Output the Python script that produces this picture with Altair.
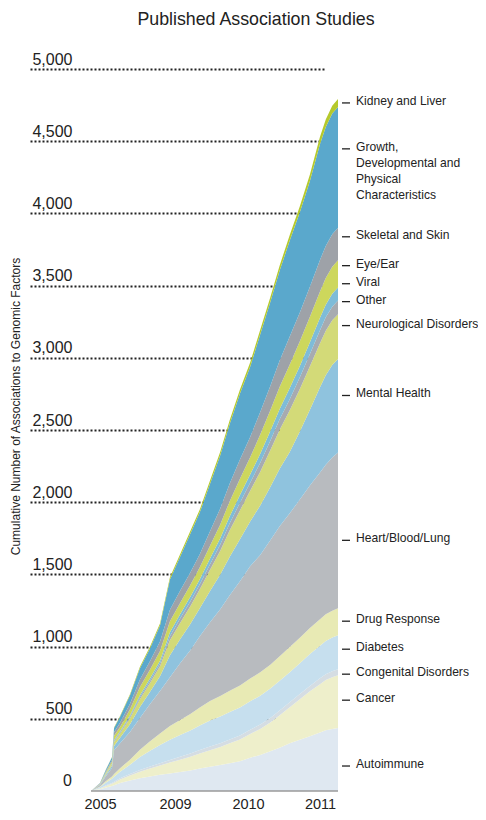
import altair as alt
import pandas as pd

F = "Liberation Sans, Arial, Helvetica, sans-serif"

# time points (fractional years)
years = [2004.85, 2005.0, 2005.32, 2005.64, 2005.75, 2006.07, 2006.6, 2007.13, 2007.67, 2008.2,
         2008.73, 2009.07, 2009.21, 2009.34, 2009.48, 2009.62, 2009.75, 2009.89, 2010.03, 2010.17,
         2010.31, 2010.44, 2010.58, 2010.72, 2010.86, 2011.0, 2011.08, 2011.17, 2011.25]

categories = ["Autoimmune", "Cancer", "Congenital Disorders", "Diabetes", "Drug Response",
              "Heart/Blood/Lung", "Mental Health", "Neurological Disorders", "Other", "Viral",
              "Eye/Ear", "Skeletal and Skin", "Growth, Developmental and Physical Characteristics",
              "Kidney and Liver"]

label_text = ["Autoimmune", "Cancer", "Congenital Disorders", "Diabetes", "Drug Response",
              "Heart/Blood/Lung", "Mental Health", "Neurological Disorders", "Other", "Viral",
              "Eye/Ear", "Skeletal and Skin", "Growth,\nDevelopmental and\nPhysical\nCharacteristics",
              "Kidney and Liver"]

colors = ["#dfe8f1", "#eeefcb", "#d5dde3", "#c6dfee", "#e8eab4", "#b8bbbf", "#8fc3de",
          "#d3da78", "#a7abb0", "#7ebcd8", "#cdd75c", "#9ea2a8", "#5aa8cc", "#b5c92c"]

autoimmune = [0, 12, 25, 35, 40, 55, 72, 88, 100, 112, 122, 132, 142, 155, 168, 180, 192, 206, 230, 250,
              275, 300, 330, 355, 380, 405, 420, 430, 436]
cancer = [0, 5, 10, 15, 18, 25, 35, 45, 55, 65, 75, 85, 95, 105, 115, 125, 138, 150, 165, 180,
          200, 225, 250, 280, 310, 335, 348, 358, 366]
congenital = [0, 2, 4, 5, 6, 8, 10, 12, 14, 16, 18, 20, 22, 24, 25, 26, 27, 28, 29, 30,
              31, 33, 35, 37, 38, 40, 41, 42, 42]
diabetes = [0, 8, 20, 30, 35, 45, 65, 90, 110, 125, 140, 150, 160, 170, 180, 185, 190, 194, 197, 200,
            203, 205, 208, 213, 220, 226, 230, 233, 235]
drug = [0, 5, 10, 15, 18, 25, 35, 50, 65, 80, 95, 105, 115, 125, 135, 142, 148, 153, 158, 162,
        166, 170, 174, 177, 180, 183, 185, 186, 187]
heart = [0, 10, 35, 60, 165, 172, 191, 220, 258, 294, 338, 393, 441, 493, 546, 601, 661, 721, 778, 812,
         861, 900, 926, 957, 988, 1017, 1036, 1061, 1079]
mental = [0, 3, 9, 15, 30, 38, 55, 76, 86, 102, 152, 166, 181, 193, 216, 240, 267, 292, 310, 343,
          370, 398, 424, 470, 525, 590, 620, 640, 646]
neuro = [0, 2, 7, 12, 28, 30, 41, 54, 60, 70, 104, 113, 124, 132, 147, 164, 182, 199, 212, 234,
         253, 271, 289, 295, 300, 305, 308, 310, 311]
other = [0, 1, 2, 3, 7, 8, 10, 14, 16, 19, 28, 30, 33, 35, 39, 44, 49, 53, 56, 62,
         67, 72, 77, 81, 85, 90, 92, 94, 95]
viral = [0, 1, 2, 3, 7, 8, 10, 14, 16, 19, 28, 30, 33, 35, 39, 44, 49, 53, 56, 62,
         67, 72, 77, 79, 82, 86, 88, 89, 90]
eye_ear = [0, 2, 8, 12, 28, 30, 42, 57, 62, 68, 76, 78, 80, 82, 88, 95, 104, 113, 120, 133,
           143, 154, 164, 170, 176, 183, 185, 187, 188]
skeletal = [0, 2, 7, 11, 25, 29, 39, 53, 58, 65, 80, 84, 88, 90, 100, 110, 122, 133, 141, 156,
            168, 181, 193, 200, 208, 218, 222, 225, 226]
growth = [0, 2, 10, 17, 30, 42, 58, 77, 88, 111, 208, 237, 268, 291, 330, 370, 415, 457, 486, 539,
          582, 623, 665, 694, 732, 802, 823, 836, 836]
kidney = [0, 0, 1, 2, 3, 5, 7, 10, 12, 14, 16, 17, 18, 20, 22, 24, 26, 28, 30, 32,
          34, 36, 38, 42, 46, 50, 52, 54, 55]

series = [autoimmune, cancer, congenital, diabetes, drug, heart, mental, neuro, other, viral,
          eye_ear, skeletal, growth, kidney]

# where each right-hand label points (in association counts)
label_values = [173, 629, 809, 982, 1176, 1736, 2739, 3223, 3389, 3513, 3638, 3838, 4447, 4765]

grid_ticks = [500, 1000, 1500, 2000, 2500, 3000, 3500, 4000, 4500, 5000]
zero_tick = [0]
x_ticks = [2005, 2009, 2010, 2011]

rows = []
for k, (cat, vals) in enumerate(zip(categories, series)):
    for t, v in zip(years, vals):
        rows.append({"year": t, "category": cat, "count": v, "order": k})
df = pd.DataFrame(rows)

labels_df = pd.DataFrame({"label": label_text, "label_value": label_values})
base_df = pd.DataFrame({"x0": [years[0]], "x1": [years[-1]], "y": zero_tick})
zero_df = pd.DataFrame({"v": zero_tick, "txt": ["0"]})

# piecewise time axis as in the original (2005-2009 compressed)
x_scale = alt.Scale(domain=[2004.0, 2004.8, 2005, 2009, 2010, 2011, 2011.0833],
                    range=[0, 58, 70, 145, 218, 290, 296], nice=False, zero=False)
y_scale = alt.Scale(domain=[0, 5000], nice=False)

x_axis = alt.Axis(values=x_ticks, format="d", title=None, grid=False, domain=False, ticks=False,
                  labelFontSize=14.5, labelFont=F, labelColor="#222", labelPadding=6,
                  labelFlush=False)
y_axis = alt.Axis(values=grid_ticks, format=",d", title="Cumulative Number of Associations to Genomic Factors",
                  titleFontSize=12, titleFontWeight="normal", titleFont=F, titleColor="#222",
                  titleX=-15, titleY=337, titleBaseline="middle", titleAlign="center",
                  domain=False, ticks=False, labelAlign="right", labelBaseline="alphabetic",
                  labelPadding=-42, labelOffset=-5, labelFontSize=16, labelFont=F, labelColor="#222",
                  grid=True, gridDash=[2, 2], gridColor="#222", gridWidth=2)

area = alt.Chart(df).mark_area(interpolate="linear").encode(
    x=alt.X("year:Q", scale=x_scale, axis=x_axis),
    y=alt.Y("count:Q", stack="zero", scale=y_scale, axis=y_axis),
    color=alt.Color("category:N", scale=alt.Scale(domain=categories, range=colors), legend=None),
    order=alt.Order("order:Q", sort="ascending"),
)

baseline = alt.Chart(base_df).mark_rule(color="#9a9a9a", strokeWidth=1.5).encode(
    x=alt.X("x0:Q", scale=x_scale),
    x2="x1:Q",
    y=alt.Y("y:Q", scale=y_scale),
)

zero_label = alt.Chart(zero_df).mark_text(align="right", baseline="alphabetic", dy=-5, fontSize=16,
                                          font=F, color="#222").encode(
    x=alt.value(42),
    y=alt.Y("v:Q", scale=y_scale),
    text="txt:N",
)

ticks = alt.Chart(labels_df).mark_rule(color="#222", strokeWidth=1.3).encode(
    x=alt.value(312), x2=alt.value(320),
    y=alt.Y("label_value:Q", scale=y_scale),
)

texts = alt.Chart(labels_df).mark_text(align="left", baseline="top", dy=-8, fontSize=12.1,
                                       lineHeight=16, lineBreak="\n", font=F, color="#222").encode(
    x=alt.value(326),
    y=alt.Y("label_value:Q", scale=y_scale),
    text="label:N",
)

chart = alt.layer(area, baseline, zero_label, ticks, texts).properties(
    width=308, height=722,
    autosize=alt.AutoSizeParams(type="none"),
    padding={"left": 22, "top": 61, "right": 140, "bottom": 21},
    title=alt.TitleParams("Published Association Studies", fontSize=17.8, fontWeight="normal",
                          font=F, color="#222", anchor="middle", frame="group", dx=72, offset=22),
).configure_view(stroke=None)

chart.save("out.html", embed_options={"renderer": "svg", "actions": False})
